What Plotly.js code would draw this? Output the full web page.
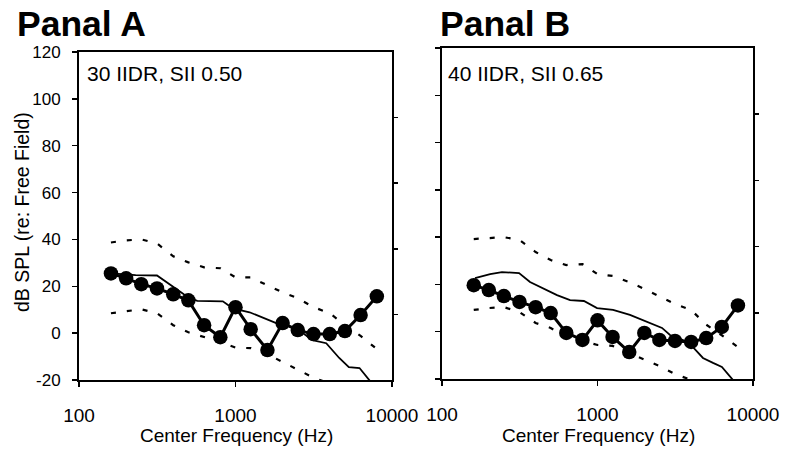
<!DOCTYPE html>
<html>
<head>
<meta charset="utf-8">
<script src="https://cdn.plot.ly/plotly-3.0.1.min.js"></script>
<style>html,body{margin:0;padding:0;background:#fff;}#chart{width:785px;height:449px;}</style>
</head>
<body>
<div id="chart"></div>
<script>
// 1/3-octave centre frequencies (Hz)
const freqs = [160,200,250,315,400,500,630,800,1000,1250,1600,2000,2500,3150,4000,5000,6300,8000];

// Panel A (30 IIDR, SII 0.50)
const aspectA = [25.5,23.4,20.9,19.1,16.6,14.0,3.4,-1.7,11.1,1.7,-7.2,4.3,1.3,-0.4,-0.4,0.9,7.7,15.7];
const upperA  = [38.7,39.6,40.0,38.3,32.8,30.2,28.1,27.7,23.8,23.8,20.4,17.4,14.9,11.1,8.5,3.5,-1.2,-6.8];
const lowerA  = [8.5,9.4,10.2,8.5,3.4,0.4,-1.7,-3.8,-6.2,-6.4,-9.0,-12.3,-15.3,-19.0,-21.5,-24.5,-27.5,-30.5];
const solidAf = [160,230,315,500,570,830,960,1230,1820,2450,3100,3800,4600,5300,6200,7150,8000];
const solidAv = [25.5,24.8,24.6,15.2,13.8,13.6,10.6,8.9,4.3,2.1,-3.0,-4.3,-10.6,-14.5,-14.9,-20.0,-24.0];

// Panel B (40 IIDR, SII 0.65)
const aspectB = [19.7,17.6,15.1,12.6,10.4,7.9,-0.5,-3.5,4.8,-2.2,-8.6,-0.5,-3.5,-3.9,-4.3,-2.7,2.0,11.1];
const upperB  = [39.2,39.6,40.0,38.8,33.7,30.3,28.2,28.6,24.4,23.6,21.0,18.1,15.1,11.7,9.2,3.0,-1.5,-6.5];
const lowerB  = [9.2,10.0,10.4,8.3,3.7,1.6,-2.2,-4.0,-5.6,-6.0,-9.0,-11.5,-14.5,-17.9,-20.4,-24.0,-27.5,-31.0];
const solidBf = [163,204,243,313,368,446,549,666,818,993,1259,1617,2081,2600,2924,3548,4111,4766,5530,6310,7430,8000];
const solidBv = [22.7,24.4,25.2,24.8,21.0,18.4,15.5,13.4,13.0,10.0,9.2,7.1,4.1,1.6,-1.4,-3.5,-6.5,-11.1,-13.2,-14.9,-20.4,-23.0];

// Labels
const panelTitles = ['Panal A','Panal B'];
const panelNotes = ['30 IIDR, SII 0.50','40 IIDR, SII 0.65'];
const xTickVals = [100,1000,10000];
const xTickText = ['100','1000','10000'];
const yTickVals = [-20,0,20,40,60,80,100,120];
const yTickText = ['-20','0','20','40','60','80','100','120'];
const xTitle = 'Center Frequency (Hz)';
const yTitle = 'dB SPL (re: Free Field)';

const W = 785, H = 449;
const px = x => x / W;
const py = y => 1 - y / H;
const FONT = 'Arial, "Liberation Sans", sans-serif';

function dashed(x, y, xa, ya) {
  return {x, y, xaxis: xa, yaxis: ya, type: 'scatter', mode: 'lines',
          line: {color: '#000', width: 2.2, dash: '5px,11px'}, hoverinfo: 'skip'};
}
function solid(x, y, xa, ya) {
  return {x, y, xaxis: xa, yaxis: ya, type: 'scatter', mode: 'lines',
          line: {color: '#000', width: 1.8}, hoverinfo: 'skip'};
}
function circles(x, y, xa, ya) {
  return {x, y, xaxis: xa, yaxis: ya, type: 'scatter', mode: 'lines+markers',
          line: {color: '#000', width: 3},
          marker: {color: '#000', size: 14.5, symbol: 'circle'}, hoverinfo: 'skip'};
}

const data = [
  dashed(freqs, upperA, 'x', 'y'),
  dashed(freqs, lowerA, 'x', 'y'),
  solid(solidAf, solidAv, 'x', 'y'),
  circles(freqs, aspectA, 'x', 'y'),
  dashed(freqs, upperB, 'x2', 'y2'),
  dashed(freqs, lowerB, 'x2', 'y2'),
  solid(solidBf, solidBv, 'x2', 'y2'),
  circles(freqs, aspectB, 'x2', 'y2'),
  // invisible traces to activate the right-hand tick axes
  {x: [1000], y: [null], xaxis: 'x', yaxis: 'y3', type: 'scatter', mode: 'markers', showlegend: false, hoverinfo: 'skip'},
  {x: [1000], y: [null], xaxis: 'x2', yaxis: 'y4', type: 'scatter', mode: 'markers', showlegend: false, hoverinfo: 'skip'}
];

const xBase = {
  type: 'log', range: [2, 4], tickvals: xTickVals, ticktext: xTickText,
  showline: true, mirror: true, linecolor: '#000', linewidth: 2,
  ticks: 'outside', ticklen: 5, tickwidth: 1.5, tickcolor: '#000',
  showgrid: false, zeroline: false, ticklabelstandoff: 12,
  tickfont: {family: FONT, size: 19, color: '#000'}, fixedrange: true
};
const yBase = {
  range: [-20, 120], tickvals: yTickVals, ticktext: yTickText,
  showline: true, mirror: true, linecolor: '#000', linewidth: 2,
  ticks: 'outside', ticklen: 5, tickwidth: 1.5, tickcolor: '#000',
  showgrid: false, zeroline: false, ticklabelstandoff: 8,
  tickfont: {family: FONT, size: 17, color: '#000'}, fixedrange: true
};
const yRight = {
  range: [0, 5], tickvals: [1, 2, 3, 4], showticklabels: false,
  ticks: 'outside', ticklen: 5, tickwidth: 1.5, tickcolor: '#000',
  showline: false, showgrid: false, zeroline: false, side: 'right', fixedrange: true
};

const layout = {
  width: W, height: H, margin: {l: 0, r: 0, t: 0, b: 0},
  paper_bgcolor: '#fff', plot_bgcolor: '#fff', showlegend: false,
  font: {family: FONT, color: '#000'},
  xaxis:  Object.assign({}, xBase, {domain: [px(79), px(392)], anchor: 'y'}),
  xaxis2: Object.assign({}, xBase, {domain: [px(442), px(753)], anchor: 'y2'}),
  yaxis:  Object.assign({}, yBase, {domain: [py(380), py(52)], anchor: 'x'}),
  yaxis2: Object.assign({}, yBase, {domain: [py(379), py(48)], anchor: 'x2', showticklabels: false}),
  yaxis3: Object.assign({}, yRight, {overlaying: 'y', anchor: 'x'}),
  yaxis4: Object.assign({}, yRight, {overlaying: 'y2', anchor: 'x2'}),
  annotations: [
    {text: '<b>' + panelTitles[0] + '</b>', xref: 'paper', yref: 'paper', x: px(15), y: py(24),
     xanchor: 'left', yanchor: 'middle', showarrow: false, font: {family: FONT, size: 35.5, color: '#000'}},
    {text: '<b>' + panelTitles[1] + '</b>', xref: 'paper', yref: 'paper', x: px(438), y: py(24),
     xanchor: 'left', yanchor: 'middle', showarrow: false, font: {family: FONT, size: 35.5, color: '#000'}},
    {text: panelNotes[0], xref: 'paper', yref: 'paper', x: px(85), y: py(73),
     xanchor: 'left', yanchor: 'middle', showarrow: false, font: {family: FONT, size: 21, color: '#000'}},
    {text: panelNotes[1], xref: 'paper', yref: 'paper', x: px(446), y: py(73),
     xanchor: 'left', yanchor: 'middle', showarrow: false, font: {family: FONT, size: 21, color: '#000'}},
    {text: xTitle, xref: 'paper', yref: 'paper', x: px(236), y: py(435),
     xanchor: 'center', yanchor: 'middle', showarrow: false, font: {family: FONT, size: 19, color: '#000'}},
    {text: xTitle, xref: 'paper', yref: 'paper', x: px(598), y: py(435),
     xanchor: 'center', yanchor: 'middle', showarrow: false, font: {family: FONT, size: 19, color: '#000'}},
    {text: yTitle, xref: 'paper', yref: 'paper', x: px(22), y: py(212), textangle: -90,
     xanchor: 'center', yanchor: 'middle', showarrow: false, font: {family: FONT, size: 19.5, color: '#000'}}
  ]
};

Plotly.newPlot('chart', data, layout, {staticPlot: true, displayModeBar: false});
</script>
</body>
</html>
